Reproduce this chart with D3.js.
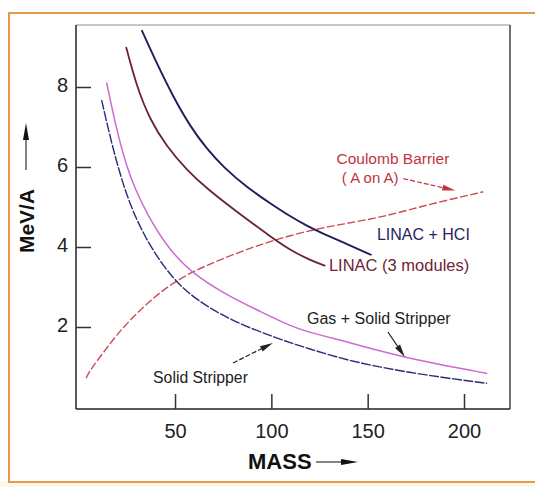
<!DOCTYPE html>
<html>
<head>
<meta charset="utf-8">
<script src="https://cdn.jsdelivr.net/npm/d3@7"></script>
<style>
  body { margin: 0; background: #fff; }
  text { font-family: "Liberation Sans", Arial, sans-serif; }
</style>
</head>
<body>
<div id="chart"></div>
<script>
var solidMass = [11.9, 17.1, 22.3, 28.4, 37, 49.1, 61.3, 78.6, 102.7, 118.4, 144, 179, 212];
var solidMeV  = [7.67, 6.59, 5.67, 4.84, 4.01, 3.18, 2.67, 2.17, 1.72, 1.47, 1.10, 0.80, 0.59];

var gasMass = [14.5, 19.7, 24.9, 29.2, 35.3, 45.7, 57.8, 75.1, 95.8, 109.7, 118.4, 144, 170, 212];
var gasMeV  = [8.11, 6.92, 6.01, 5.46, 4.84, 4.01, 3.38, 2.84, 2.35, 2.03, 1.88, 1.57, 1.22, 0.84];

var linac3Mass = [24.6, 30.1, 37, 45.7, 56, 66.5, 83.7, 101, 109.7, 120, 128];
var linac3MeV  = [9.0, 8.01, 7.18, 6.51, 5.93, 5.46, 4.82, 4.21, 3.93, 3.67, 3.53];

var hciMass = [32.7, 40.5, 49.1, 57.8, 66.5, 75.1, 87, 101, 110, 118.4, 127, 140, 152];
var hciMeV  = [9.42, 8.59, 7.75, 7.02, 6.45, 6.0, 5.5, 5.04, 4.76, 4.53, 4.33, 4.06, 3.80];

var coulombMass = [3.8, 5.9, 14.6, 23.2, 37, 50.9, 66.5, 83.7, 101, 121.8, 139, 156.5, 173.8, 191, 210];
var coulombMeV  = [0.72, 0.92, 1.48, 2.01, 2.67, 3.18, 3.55, 3.88, 4.17, 4.44, 4.59, 4.74, 4.96, 5.17, 5.38];

var xTicks = [50, 100, 150, 200];
var yTicks = [2, 4, 6, 8];

var W = 535, H = 487;
var box = {left: 76, top: 25, right: 510, bottom: 409};

var svg = d3.select("#chart").append("svg")
    .attr("width", W)
    .attr("height", H);

// page frame
svg.append("rect").attr("x", 0).attr("y", 0).attr("width", W).attr("height", H).attr("fill", "#fff");
svg.append("rect").attr("x", 0).attr("y", 481).attr("width", W).attr("height", 6).attr("fill", "#fdf7ea");
svg.append("rect")
    .attr("x", 9).attr("y", 13)
    .attr("width", W + 10).attr("height", 469)
    .attr("fill", "none")
    .attr("stroke", "#e39b48")
    .attr("stroke-width", 2);

var x = d3.scaleLinear().domain([0, 200]).range([78.7, 464]);
var y = d3.scaleLinear().domain([0, 8]).range([407, 87]);

// plot box
svg.append("line").attr("x1", box.left).attr("x2", box.right).attr("y1", box.top).attr("y2", box.top)
    .attr("stroke", "#9c8c98").attr("stroke-width", 1.2);
svg.append("line").attr("x1", box.right).attr("x2", box.right).attr("y1", box.top).attr("y2", box.bottom)
    .attr("stroke", "#222").attr("stroke-width", 1.3);

var xAxis = d3.axisBottom(x).tickValues(xTicks).tickSize(-15).tickPadding(22).tickSizeOuter(0);
var yAxis = d3.axisLeft(y).tickValues(yTicks).tickSize(-15).tickPadding(8).tickSizeOuter(0);

var gx = svg.append("g")
    .attr("transform", "translate(0," + box.bottom + ")")
    .call(xAxis);
gx.select(".domain").attr("d", "M" + box.left + ",0H" + box.right);

var gy = svg.append("g")
    .attr("transform", "translate(" + box.left + ",0)")
    .call(yAxis);
gy.select(".domain").attr("d", "M0," + box.top + "V" + box.bottom);

svg.selectAll(".domain").attr("stroke", "#222").attr("stroke-width", 1.5);
svg.selectAll(".tick line").attr("stroke", "#333").attr("stroke-width", 1.5);
svg.selectAll(".tick text")
    .attr("font-family", "'Liberation Sans', Arial, sans-serif")
    .attr("font-size", 20)
    .attr("fill", "#222");
gx.selectAll(".tick text").attr("dy", "0.35em");
gy.selectAll(".tick text").attr("dy", "0.2em");

// curves
var line = d3.line()
    .x(d => x(d[0]))
    .y(d => y(d[1]))
    .curve(d3.curveBasis);

function pairs(ms, vs) { return ms.map((m, i) => [m, vs[i]]); }

var curves = [
  {pts: pairs(coulombMass, coulombMeV), color: "#cf4a52", width: 1.4, dash: "8,2.5"},
  {pts: pairs(gasMass, gasMeV), color: "#cc6ad2", width: 1.5, dash: null},
  {pts: pairs(solidMass, solidMeV), color: "#2b2b78", width: 1.4, dash: "10,1.5"},
  {pts: pairs(linac3Mass, linac3MeV), color: "#6b2232", width: 1.8, dash: null},
  {pts: pairs(hciMass, hciMeV), color: "#1e1e5e", width: 1.9, dash: null}
];

svg.selectAll("path.curve")
  .data(curves)
  .join("path")
    .attr("class", "curve")
    .attr("d", d => line(d.pts))
    .attr("fill", "none")
    .attr("stroke", d => d.color)
    .attr("stroke-width", d => d.width)
    .attr("stroke-dasharray", d => d.dash);

// annotations: text and arrows, placed in data units
var labels = [
  {text: "Coulomb Barrier", m: 163.1, v: 6.07, anchor: "middle", color: "#c2343e", size: 15.5},
  {text: "( A on A)", m: 136.6, v: 5.6, anchor: "start", color: "#c2343e", size: 15},
  {text: "LINAC + HCI", m: 154.8, v: 4.175, anchor: "start", color: "#24245e", size: 16},
  {text: "LINAC (3 modules)", m: 129.9, v: 3.4, anchor: "start", color: "#6e2434", size: 16.5},
  {text: "Gas + Solid Stripper", m: 118.5, v: 2.075, anchor: "start", color: "#222", size: 16},
  {text: "Solid Stripper", m: 38.6, v: 0.6, anchor: "start", color: "#222", size: 15.8}
];

svg.selectAll("text.lbl")
  .data(labels)
  .join("text")
    .attr("class", "lbl")
    .attr("x", d => x(d.m))
    .attr("y", d => y(d.v))
    .attr("text-anchor", d => d.anchor)
    .attr("fill", d => d.color)
    .attr("font-size", d => d.size)
    .text(d => d.text);

var arrows = [
  {m0: 168.5, v0: 5.71, m1: 195.5, v1: 5.41, color: "#c2343e", dash: "5,2"},
  {m0: 160.5, v0: 1.875, m1: 169.3, v1: 1.25, color: "#222", dash: null},
  {m0: 80.1, v0: 1.1, m1: 100.8, v1: 1.6, color: "#222", dash: "5,2"}
];

function arrowHead(x0, y0, x1, y1, len, half) {
  var a = Math.atan2(y1 - y0, x1 - x0);
  var bx = x1 - len * Math.cos(a), by = y1 - len * Math.sin(a);
  var px = -Math.sin(a) * half, py = Math.cos(a) * half;
  return [[x1, y1], [bx + px, by + py], [bx - px, by - py]];
}

arrows.forEach(function(d) {
  var x0 = x(d.m0), y0 = y(d.v0), x1 = x(d.m1), y1 = y(d.v1);
  var a = Math.atan2(y1 - y0, x1 - x0);
  svg.append("line")
    .attr("x1", x0).attr("y1", y0)
    .attr("x2", x1 - 8 * Math.cos(a)).attr("y2", y1 - 8 * Math.sin(a))
    .attr("stroke", d.color).attr("stroke-width", 1.2)
    .attr("stroke-dasharray", d.dash);
  svg.append("polygon")
    .attr("points", arrowHead(x0, y0, x1, y1, 13, 3).join(" "))
    .attr("fill", d.color);
});

// axis titles with their arrows
svg.append("text")
    .attr("transform", "translate(34,221) rotate(-90)")
    .attr("text-anchor", "middle")
    .attr("font-size", 21)
    .attr("font-weight", "bold")
    .attr("fill", "#111")
    .text("MeV/A");
svg.append("line").attr("x1", 26).attr("x2", 26).attr("y1", 170).attr("y2", 134)
    .attr("stroke", "#333").attr("stroke-width", 1.2);
svg.append("polygon").attr("points", arrowHead(26, 170, 26, 123, 17, 3).join(" ")).attr("fill", "#111");

svg.append("text")
    .attr("x", 248).attr("y", 469)
    .attr("font-size", 22)
    .attr("font-weight", "bold")
    .attr("fill", "#111")
    .text("MASS");
svg.append("line").attr("x1", 316).attr("x2", 345).attr("y1", 462).attr("y2", 462)
    .attr("stroke", "#333").attr("stroke-width", 1.2);
svg.append("polygon").attr("points", arrowHead(316, 462, 358, 462, 17, 3).join(" ")).attr("fill", "#111");
</script>
</body>
</html>
